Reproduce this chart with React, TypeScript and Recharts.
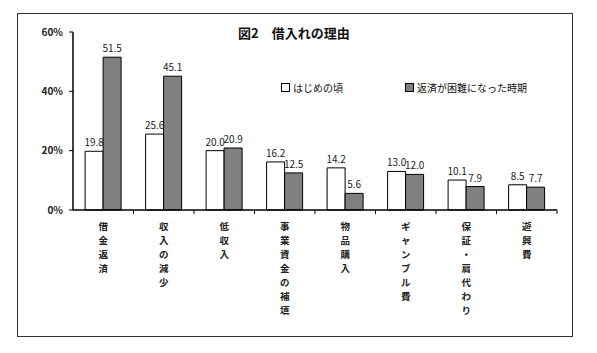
import React from 'react'
import { BarChart, Bar, XAxis, YAxis, LabelList } from 'recharts'

const categories = ['借金返済', '収入の減少', '低収入', '事業資金の補填', '物品購入', 'ギャンブル費', '保証・肩代わり', '遊興費']
const earlyValues = [19.8, 25.6, 20.0, 16.2, 14.2, 13.0, 10.1, 8.5]
const hardValues = [51.5, 45.1, 20.9, 12.5, 5.6, 12.0, 7.9, 7.7]
const yTicks = [0, 20, 40, 60]

const data = categories.map((name, i) => ({ name, early: earlyValues[i], hard: hardValues[i] }))

const FONT = '"Noto Sans CJK JP", "Noto Sans", sans-serif'
const BAND = 484 / categories.length

// category names stacked one character per line
const VerticalTick = (props: any) => {
    const { x, y, payload } = props
    const chars = String(payload.value).split('')
    return (
        <g>
            <line x1={x + BAND / 2} x2={x + BAND / 2} y1={y - 10} y2={y - 6} stroke="#000" />
            {chars.map((c, i) => (
                <text key={i} x={x} y={y + 10 + i * 14} textAnchor="middle" fontSize={9.5} fontWeight="bold" fill="#222" fontFamily={FONT}>
                    {c}
                </text>
            ))}
        </g>
    )
}

export default function App() {
    return (
        <div style={{ position: 'absolute', left: 0, top: 0, width: 597, height: 353, background: '#fff', fontFamily: FONT }}>
            <div style={{ position: 'absolute', left: 17, top: 13, width: 554, height: 322, border: '1.5px solid #333' }} />
            <div style={{ position: 'absolute', left: 238, top: 23, fontSize: 13, fontWeight: 'bold', color: '#111', whiteSpace: 'nowrap' }}>
                図2　借入れの理由
            </div>
            <div style={{ position: 'absolute', left: 281, top: 80, fontSize: 10, color: '#111', display: 'flex', alignItems: 'center', whiteSpace: 'nowrap' }}>
                <span style={{ display: 'inline-block', width: 7, height: 7, border: '1px solid #000', background: '#fff', marginRight: 3 }} />
                はじめの頃
            </div>
            <div style={{ position: 'absolute', left: 405, top: 80, fontSize: 10, color: '#111', display: 'flex', alignItems: 'center', whiteSpace: 'nowrap' }}>
                <span style={{ display: 'inline-block', width: 7, height: 7, border: '1px solid #000', background: '#808080', marginRight: 3 }} />
                返済が困難になった時期
            </div>
            <div style={{ position: 'absolute', left: 0, top: 0 }}>
                <BarChart width={597} height={353} data={data} margin={{ top: 32, right: 40, bottom: 0, left: 0 }} barCategoryGap="20%" barGap={0}>
                    <XAxis
                        dataKey="name"
                        height={143}
                        interval={0}
                        tickLine={false}
                        axisLine={{ stroke: '#000', strokeWidth: 1.5 }}
                        tick={<VerticalTick />}
                        tickMargin={4}
                    />
                    <YAxis
                        width={73}
                        domain={[0, 60]}
                        ticks={yTicks}
                        tickFormatter={(v: number) => `${v}%`}
                        axisLine={{ stroke: '#000', strokeWidth: 1.5 }}
                        tickLine={{ stroke: '#000' }}
                        tickSize={4}
                        tickMargin={6}
                        tick={{ fontSize: 10, fontWeight: 'bold', fill: '#222', fontFamily: FONT }}
                    />
                    <Bar dataKey="early" fill="#fff" stroke="#000" strokeWidth={1} isAnimationActive={false}>
                        <LabelList dataKey="early" position="top" offset={5} formatter={(v: any) => Number(v).toFixed(1)} style={{ fontSize: 10, fill: '#222', fontFamily: FONT }} />
                    </Bar>
                    <Bar dataKey="hard" fill="#808080" stroke="#000" strokeWidth={1} isAnimationActive={false}>
                        <LabelList dataKey="hard" position="top" offset={5} formatter={(v: any) => Number(v).toFixed(1)} style={{ fontSize: 10, fill: '#222', fontFamily: FONT }} />
                    </Bar>
                </BarChart>
            </div>
        </div>
    )
}
